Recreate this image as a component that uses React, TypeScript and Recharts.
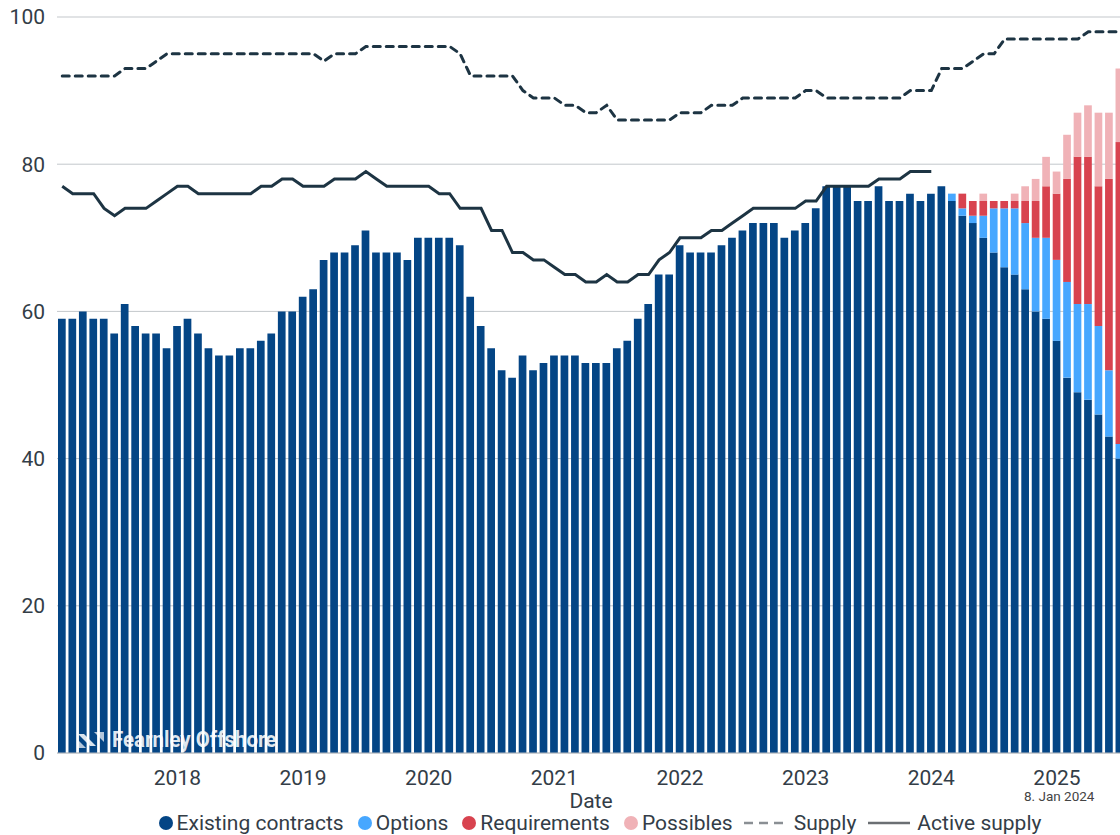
import {Bar, CartesianGrid, ComposedChart, Line, XAxis, YAxis} from "recharts";

// monthly categories, Feb 2017 .. Jul 2025
const months: string[] = [];
for (let i = 0; i < 102; i++) {
    const year = 2017 + Math.floor((i + 1) / 12);
    const month = ((i + 1) % 12) + 1;
    months.push(`${year}-${String(month).padStart(2, "0")}`);
}

const existing = [
    59, 59, 60, 59, 59, 57, 61, 58, 57, 57,
    55, 58, 59, 57, 55, 54, 54, 55, 55, 56,
    57, 60, 60, 62, 63, 67, 68, 68, 69, 71,
    68, 68, 68, 67, 70, 70, 70, 70, 69, 62,
    58, 55, 52, 51, 54, 52, 53, 54, 54, 54,
    53, 53, 53, 55, 56, 59, 61, 65, 65, 69,
    68, 68, 68, 69, 70, 71, 72, 72, 72, 70,
    71, 72, 74, 77, 77, 77, 75, 75, 77, 75,
    75, 76, 75, 76, 77, 75, 73, 72, 70, 68,
    66, 65, 63, 60, 59, 56, 51, 49, 48, 46,
    43, 40,
];

// forward-looking stacks start at Mar 2024
const forecastStart = 85;
const options = [1, 1, 1, 3, 6, 8, 9, 9, 10, 11, 11, 13, 12, 13, 12, 9, 2];
const requirements = [0, 2, 2, 2, 1, 1, 1, 3, 5, 7, 9, 14, 20, 20, 19, 26, 41];
const possibles = [0, 0, 0, 1, 0, 0, 1, 2, 3, 4, 3, 6, 6, 7, 10, 9, 10];

const supply = [
    92, 92, 92, 92, 92, 92, 93, 93, 93, 94,
    95, 95, 95, 95, 95, 95, 95, 95, 95, 95,
    95, 95, 95, 95, 95, 94, 95, 95, 95, 96,
    96, 96, 96, 96, 96, 96, 96, 96, 95, 92,
    92, 92, 92, 92, 90, 89, 89, 89, 88, 88,
    87, 87, 88, 86, 86, 86, 86, 86, 86, 87,
    87, 87, 88, 88, 88, 89, 89, 89, 89, 89,
    89, 90, 90, 89, 89, 89, 89, 89, 89, 89,
    89, 90, 90, 90, 93, 93, 93, 94, 95, 95,
    97, 97, 97, 97, 97, 97, 97, 97, 98, 98,
    98, 98,
];

const activeSupply = [
    77, 76, 76, 76, 74, 73, 74, 74, 74, 75,
    76, 77, 77, 76, 76, 76, 76, 76, 76, 77,
    77, 78, 78, 77, 77, 77, 78, 78, 78, 79,
    78, 77, 77, 77, 77, 77, 76, 76, 74, 74,
    74, 71, 71, 68, 68, 67, 67, 66, 65, 65,
    64, 64, 65, 64, 64, 65, 65, 67, 68, 70,
    70, 70, 71, 71, 72, 73, 74, 74, 74, 74,
    74, 75, 75, 77, 77, 77, 77, 77, 78, 78,
    78, 79, 79, 79,
];

const yTicks = [0, 20, 40, 60, 80, 100];

const rows = months.map((month, i) => ({
    month,
    existing: existing[i],
    options: i >= forecastStart ? options[i - forecastStart] : 0,
    requirements: i >= forecastStart ? requirements[i - forecastStart] : 0,
    possibles: i >= forecastStart ? possibles[i - forecastStart] : 0,
    supply: supply[i],
    activeSupply: i < activeSupply.length ? activeSupply[i] : null,
}));

const COLORS = {
    existing: "#044585",
    options: "#47a7ff",
    requirements: "#d8434f",
    possibles: "#f0b2b7",
    line: "#1d3443",
    text: "#333d47",
    grid: "#c3c7cb",
};

const FONT = "Roboto, 'Noto Sans', sans-serif";

const Dot = ({color}: {color: string}) => (
    <span style={{display: "inline-block", width: 14, height: 14, borderRadius: 7, background: color, marginRight: 4}}/>
);

const LegendRow = () => (
    <div style={{
        position: "absolute", left: 0, top: 810, width: 1200, display: "flex", justifyContent: "center",
        alignItems: "center", fontSize: 21, color: COLORS.text, lineHeight: "26px", whiteSpace: "nowrap",
    }}>
        <span style={{marginRight: 14}}><Dot color={COLORS.existing}/>Existing contracts</span>
        <span style={{marginRight: 14}}><Dot color={COLORS.options}/>Options</span>
        <span style={{marginRight: 14}}><Dot color={COLORS.requirements}/>Requirements</span>
        <span style={{marginRight: 10}}><Dot color={COLORS.possibles}/>Possibles</span>
        <svg width={44} height={10} style={{marginRight: 7}}>
            <line x1={1} y1={5} x2={43} y2={5} stroke="#8a8f94" strokeWidth={2.5} strokeDasharray="9 6"/>
        </svg>
        <span style={{marginRight: 12}}>Supply</span>
        <svg width={42} height={10} style={{marginRight: 7}}>
            <line x1={0} y1={5} x2={42} y2={5} stroke="#6b6f73" strokeWidth={2.5}/>
        </svg>
        <span>Active supply</span>
    </div>
);

const App = (): React.JSX.Element => {
    return (
        <div style={{position: "absolute", left: 0, top: 0, width: 1120, height: 835, overflow: "hidden", fontFamily: FONT, background: "#fff"}}>
            <ComposedChart data={rows} width={1190} height={790} margin={{top: 17, right: 65, bottom: 0, left: 0}}>
                <CartesianGrid vertical={false} stroke={COLORS.grid}/>
                <XAxis dataKey="month" interval={0} height={37} tickLine={false} tickMargin={11}
                       axisLine={{stroke: "#b8bcc0"}}
                       tick={{fontSize: 21, fill: COLORS.text, fontFamily: FONT}}
                       tickFormatter={(v: string) => (v.endsWith("-01") ? v.slice(0, 4) : "")}/>
                <YAxis width={57} domain={[0, 100]} ticks={yTicks} axisLine={false} tickLine={false} tickMargin={6}
                       tick={{fontSize: 21, fill: COLORS.text, fontFamily: FONT}}/>
                <Bar dataKey="existing" stackId="a" fill={COLORS.existing} barSize={7.7} isAnimationActive={false}/>
                <Bar dataKey="options" stackId="a" fill={COLORS.options} barSize={7.7} isAnimationActive={false}/>
                <Bar dataKey="requirements" stackId="a" fill={COLORS.requirements} barSize={7.7} isAnimationActive={false}/>
                <Bar dataKey="possibles" stackId="a" fill={COLORS.possibles} barSize={7.7} isAnimationActive={false}/>
                <Line dataKey="supply" type="linear" stroke={COLORS.line} strokeWidth={3} strokeDasharray="7 6"
                      strokeLinecap="round" dot={false} isAnimationActive={false}/>
                <Line dataKey="activeSupply" type="linear" stroke={COLORS.line} strokeWidth={3} dot={false}
                      connectNulls={false} isAnimationActive={false}/>
            </ComposedChart>
            <div style={{position: "absolute", left: 78, top: 727, display: "flex", alignItems: "center", color: "rgba(255,255,255,0.88)"}}>
                <svg width={28} height={20} style={{marginRight: 6}}>
                    <polygon points="0,4 6,4 18,16 12,16" fill="rgba(255,255,255,0.85)"/>
                    <polygon points="0,10 8,18 0,18" fill="rgba(255,255,255,0.7)"/>
                    <polygon points="16,2 26,2 26,12" fill="rgba(255,255,255,0.7)"/>
                </svg>
                <span style={{fontSize: 22, fontWeight: 700, transform: "scaleX(0.93)", transformOrigin: "left center", whiteSpace: "nowrap"}}>
                    Fearnley Offshore
                </span>
            </div>
            <div style={{position: "absolute", left: 591, top: 789, transform: "translateX(-50%)", fontSize: 21, color: COLORS.text}}>
                Date
            </div>
            <div style={{position: "absolute", left: 1024, top: 788, fontSize: 13.5, color: "#444"}}>
                8. Jan 2024
            </div>
            <LegendRow/>
        </div>
    );
};

export default App;
